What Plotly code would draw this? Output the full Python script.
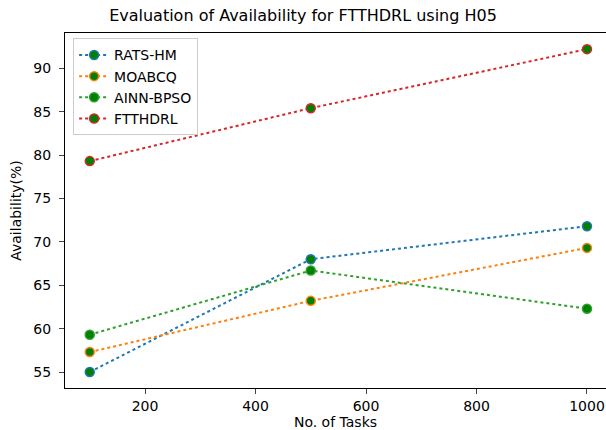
import plotly.graph_objects as go

tasks = [100, 500, 1000]
rats_hm = [55.0, 68.0, 71.8]
moabcq = [57.3, 63.2, 69.3]
ainn_bpso = [59.3, 66.7, 62.3]
ftthdrl = [79.3, 85.4, 92.2]

names = ["RATS-HM", "MOABCQ", "AINN-BPSO", "FTTHDRL"]
series = [rats_hm, moabcq, ainn_bpso, ftthdrl]
colors = ["#1f77b4", "#ff7f0e", "#2ca02c", "#d62728"]

fig = go.Figure()
for n, s, c in zip(names, series, colors):
    fig.add_trace(go.Scatter(
        x=tasks, y=s, name=n, mode="lines+markers",
        line=dict(color=c, width=2, dash="dot"),
        marker=dict(color="green", size=9, line=dict(color=c, width=1.5)),
    ))

fig.update_layout(
    width=606, height=430,
    margin=dict(l=65, r=0, t=33, b=42),
    paper_bgcolor="white", plot_bgcolor="white",
    font=dict(family="DejaVu Sans", size=14, color="black"),
    title=dict(text="Evaluation of Availability for FTTHDRL using H05",
               x=0.5, xanchor="center", y=0.978, yanchor="top",
               font=dict(size=16)),
    xaxis=dict(range=[55.2, 1034.4], tickvals=[200, 400, 600, 800, 1000],
               showgrid=False, zeroline=False, showline=True, linecolor="black",
               linewidth=1, mirror=True, ticks="outside", ticklen=5,
               tickfont=dict(size=14),
               title=dict(text="No. of Tasks", font=dict(size=14), standoff=4)),
    yaxis=dict(range=[53.16, 94.06], tickvals=[55, 60, 65, 70, 75, 80, 85, 90],
               showgrid=False, zeroline=False, showline=True, linecolor="black",
               linewidth=1, mirror=False, ticks="outside", ticklen=5,
               tickfont=dict(size=14), ticklabelstandoff=5,
               title=dict(text="Availability(%)", font=dict(size=14), standoff=8)),
    legend=dict(x=0.015, y=0.985, xanchor="left", yanchor="top",
                bgcolor="rgba(255,255,255,0.8)", bordercolor="#cccccc", borderwidth=1,
                font=dict(size=14), tracegroupgap=0, itemwidth=30),
    showlegend=True,
)

fig.write_html("out.html")
